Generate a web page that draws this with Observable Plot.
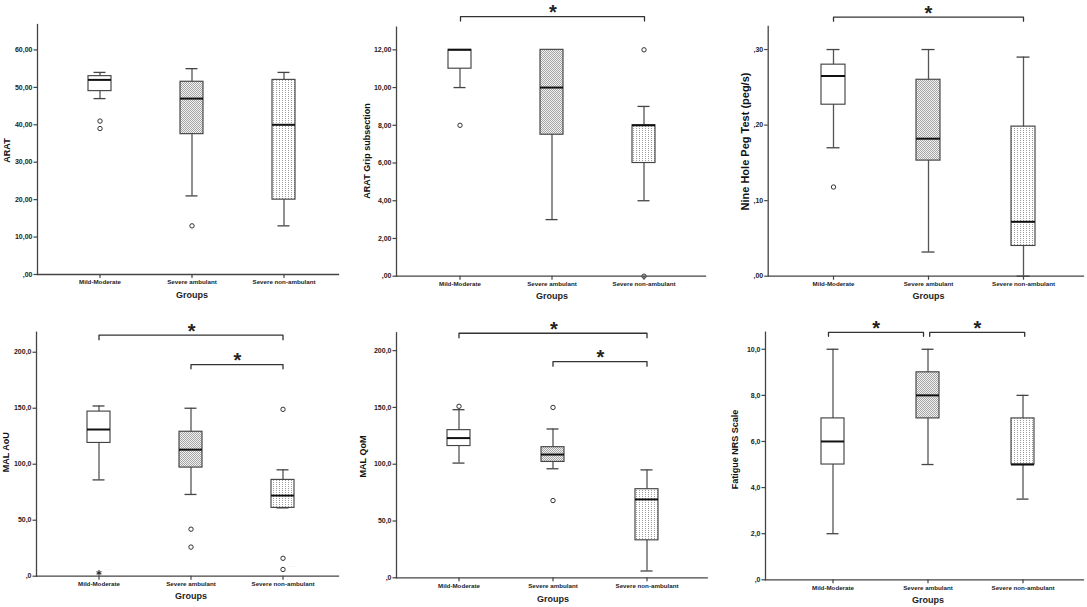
<!DOCTYPE html>
<html><head><meta charset="utf-8">
<script src="https://cdn.jsdelivr.net/npm/d3@7"></script>
<script src="https://cdn.jsdelivr.net/npm/@observablehq/plot@0.6"></script>
<style>
html,body{margin:0;padding:0;background:#fff;}
#chart{position:relative;width:1087px;height:607px;overflow:hidden;}
#chart svg{position:absolute;overflow:visible;}
</style></head><body>
<svg width="0" height="0" style="position:absolute;left:0;top:0">
<defs>
<pattern id="patAmb" width="2" height="2" patternUnits="userSpaceOnUse">
<rect width="2" height="2" fill="#f2f2f2"/><rect width="1" height="1" fill="#a4a4a4"/><rect x="1" y="1" width="1" height="1" fill="#a4a4a4"/>
</pattern>
<pattern id="patNon" width="3" height="2" patternUnits="userSpaceOnUse">
<rect width="3" height="2" fill="#fff"/><rect width="1" height="1" fill="#9e9e9e"/>
</pattern>
</defs></svg>
<div id="chart"></div>
<script>
// ---- data ----
const groups = ["Mild-Moderate", "Severe ambulant", "Severe non-ambulant"];
// five-number summaries per group: [lower whisker, Q1, median, Q3, upper whisker]
const aratStats = [[47, 49, 52, 53, 54], [21, 37.5, 47, 51.5, 55], [13, 20, 40, 52, 54]];
const aratOutliers = [[41, 39], [13], []];
const gripStats = [[10, 11, 12, 12, 12], [3, 7.5, 10, 12, 12], [4, 6, 8, 8, 9]];
const gripOutliers = [[8], [], [12, 0]];
const pegStats = [[0.17, 0.227, 0.265, 0.28, 0.30], [0.032, 0.153, 0.182, 0.26, 0.30], [0, 0.04, 0.072, 0.198, 0.29]];
const pegOutliers = [[0.118], [], []];
const aouStats = [[86, 119, 131, 147, 152], [73, 97, 113, 129, 150], [61, 61, 72, 86, 95]];
const aouOutliers = [[], [42, 26], [149, 16, 6]];
const aouExtremes = [[3], [], []];
const aouCaseLabels = [[0, 3, "· · ·"], [2, 6, "· · ·"]];
const qomStats = [[101, 116, 123, 130, 148], [96, 102, 108.5, 115, 131], [6, 33, 69, 78, 95]];
const qomOutliers = [[151], [150, 68], []];
const fatigueStats = [[2, 5, 6, 7, 10], [5, 7, 8, 9, 10], [3.5, 5, 5, 7, 8]];
const fatigueOutliers = [[], [], []];
// tick values
const aratTicks = [0, 10, 20, 30, 40, 50, 60];
const gripTicks = [0, 2, 4, 6, 8, 10, 12];
const pegTicks = [0, 0.1, 0.2, 0.3];
const malTicks = [0, 50, 100, 150, 200];
const fatigueTicks = [0, 2, 4, 6, 8, 10];
// significance brackets: [from group, to group, bracket level, end level]
const gripBrackets = [[0, 2, 13.76, 13.53]];
const pegBrackets = [[0, 2, 0.3428, 0.3375]];
const aouBrackets = [[0, 2, 215.2, 211.1], [1, 2, 189.0, 185.2]];
const qomBrackets = [[0, 2, 215.3, 211.3], [1, 2, 190.4, 186.3]];
const fatigueBrackets = [[0, 1, 10.73, 10.56], [1, 2, 10.73, 10.56]];

// ---- drawing ----
const FONT = "'Liberation Sans', Arial, Helvetica, sans-serif";
const fills = ["#ffffff", "url(#patAmb)", "url(#patNon)"];

function fmtFactory(dec) {
  return v => {
    let s = (+v).toFixed(dec).replace(".", ",");
    if (s.startsWith("0,")) s = s.slice(1);
    return s;
  };
}

function makePanel(cfg) {
  const [bx, by, bW, bH] = cfg.box;
  const [fl, fr, ft, fb] = cfg.frame;
  const [c0, c2] = cfg.centers;
  const bw = cfg.boxWidth;
  const step = (c2 - c0) / 2;
  const ml = fl - bx, mr = bx + bW - fr, mt = ft - by, mb = by + bH - fb;
  const rows = cfg.stats.map((s, i) => ({g: groups[i], low: s[0], q1: s[1], med: s[2], q3: s[3], high: s[4]}));
  const outs = cfg.outliers.flatMap((arr, i) => arr.map(v => ({g: groups[i], v})));
  const ext = (cfg.extremes || [[], [], []]).flatMap((arr, i) => arr.map(v => ({g: groups[i], v})));
  const frameCenterY = (ft + fb) / 2;
  const marks = [
    Plot.ruleX(rows, {x: "g", y1: "low", y2: "high", stroke: "#555", strokeWidth: 1.3}),
    Plot.tickY(rows, {x: "g", y: "low", insetLeft: 5.5, insetRight: 5.5, stroke: "#444", strokeWidth: 1.3}),
    Plot.tickY(rows, {x: "g", y: "high", insetLeft: 5.5, insetRight: 5.5, stroke: "#444", strokeWidth: 1.3}),
    ...rows.map((r, i) => Plot.barY([r], {x: "g", y1: "q1", y2: "q3", fill: fills[i], stroke: "#444", strokeWidth: 1.15})),
    Plot.tickY(rows, {x: "g", y: "med", stroke: "#111", strokeWidth: 2}),
    Plot.dot(outs, {x: "g", y: "v", r: 2.2, fill: "white", stroke: "#333", strokeWidth: 1}),
    Plot.dot(ext, {x: "g", y: "v", r: 2.6, symbol: "asterisk", stroke: "#333", strokeWidth: 1.1}),
    Plot.frame({anchor: "left", stroke: "#444", strokeWidth: 1.3}),
    Plot.frame({anchor: "bottom", stroke: "#444", strokeWidth: 1.3}),
    Plot.axisY(cfg.ticks, {tickFormat: fmtFactory(cfg.decimals), tickSize: 3.5, tickPadding: 1.5, fontSize: 7, fontWeight: "bold", stroke: "#444", strokeWidth: 1.2, color: "#222", label: null}),
    Plot.axisX({tickSize: 4, tickPadding: 1.5, fontSize: 6.2, fontWeight: "bold", stroke: "#444", strokeWidth: 1.2, color: "#222", label: null}),
    Plot.text([cfg.label], {frameAnchor: "left", dx: cfg.labelPos[0] - fl, dy: cfg.labelPos[1] - frameCenterY, rotate: -90, textAnchor: "middle", lineAnchor: "middle", fontSize: cfg.labelSize, fontWeight: "bold", fill: "#111"}),
    Plot.text([groups[1]], {x: d => d, text: () => "Groups", frameAnchor: "bottom", dy: cfg.groupsDy, lineAnchor: "middle", textAnchor: "middle", fontSize: 9, fontWeight: "bold", fill: "#222"})
  ];
  (cfg.brackets || []).forEach((b, k) => {
    const [i, j, top, end] = b;
    const dx = (cfg.bracketDx || [])[k] || 0;
    const pts = [{x: groups[i], y: end}, {x: groups[i], y: top}, {x: groups[j], y: top}, {x: groups[j], y: end}];
    marks.push(Plot.line(pts, {x: "x", y: "y", stroke: "#333", strokeWidth: 1.3, dx}));
    marks.push(Plot.text([{x: groups[i], y: top}], {x: "x", y: "y", text: () => "*", dx: (j - i) / 2 * step + dx, dy: 2.5, lineAnchor: "bottom", textAnchor: "middle", fontSize: 20, fontWeight: "bold", fill: "#222"}));
  });
  (cfg.caseLabels || []).forEach(([i, v, t]) => {
    marks.push(Plot.text([{x: groups[i], y: v}], {x: "x", y: "y", text: () => t, dx: 9, dy: -3, fontSize: 5, fill: "#bbb"}));
  });
  const svg = Plot.plot({
    width: bW, height: bH,
    marginLeft: ml, marginRight: mr, marginTop: mt, marginBottom: mb,
    style: {fontFamily: FONT, background: "transparent", overflow: "visible"},
    x: {type: "band", domain: groups, range: [c0 - bw / 2 - bx, c2 + bw / 2 - bx], paddingInner: 1 - bw / step, paddingOuter: 0, align: 0.5},
    y: {domain: [0, cfg.yMax], nice: false},
    marks
  });
  svg.style.left = bx + "px";
  svg.style.top = by + "px";
  document.getElementById("chart").appendChild(svg);
}

makePanel({box: [0, 0, 360, 300], frame: [37, 338, 24, 274], centers: [99, 284], boxWidth: 23.5, yMax: 66.8,
  ticks: aratTicks, decimals: 2, label: "ARAT", labelPos: [7, 150], labelSize: 9, groupsDy: 20.7,
  stats: aratStats, outliers: aratOutliers});
makePanel({box: [360, 0, 360, 300], frame: [396, 705, 26.7, 275.7], centers: [459, 644], boxWidth: 23.5, yMax: 13.2,
  ticks: gripTicks, decimals: 2, label: "ARAT Grip subsection", labelPos: [366.7, 150.5], labelSize: 9, groupsDy: 20,
  stats: gripStats, outliers: gripOutliers, brackets: gripBrackets, bracketDx: [0.5]});
makePanel({box: [720, 0, 367, 300], frame: [767.7, 1083, 26, 275.7], centers: [832.7, 1022.7], boxWidth: 23.5, yMax: 0.3305,
  ticks: pegTicks, decimals: 2, label: "Nine Hole Peg Test (peg/s)", labelPos: [745, 141], labelSize: 11, groupsDy: 20,
  stats: pegStats, outliers: pegOutliers, brackets: pegBrackets});
makePanel({box: [0, 300, 360, 307], frame: [36, 338, 331.7, 575.7], centers: [98, 283.3], boxWidth: 23.5, yMax: 217.9,
  ticks: malTicks, decimals: 1, label: "MAL AoU", labelPos: [6, 451.7], labelSize: 9, groupsDy: 20.3,
  stats: aouStats, outliers: aouOutliers, extremes: aouExtremes, caseLabels: aouCaseLabels, brackets: aouBrackets});
makePanel({box: [360, 300, 360, 307], frame: [396, 706.7, 332.3, 577.3], centers: [457.3, 647.3], boxWidth: 23.5, yMax: 215.7,
  ticks: malTicks, decimals: 1, label: "MAL QoM", labelPos: [362.5, 456], labelSize: 9, groupsDy: 21,
  stats: qomStats, outliers: qomOutliers, brackets: qomBrackets});
makePanel({box: [720, 300, 367, 307], frame: [765, 1083, 331.7, 579.3], centers: [832.3, 1022.7], boxWidth: 23.5, yMax: 10.74,
  ticks: fatigueTicks, decimals: 1, label: "Fatigue NRS Scale", labelPos: [735, 449], labelSize: 9, groupsDy: 20.7,
  stats: fatigueStats, outliers: fatigueOutliers, brackets: fatigueBrackets, bracketDx: [-4.5, 1.7]});
</script>
</body></html>
